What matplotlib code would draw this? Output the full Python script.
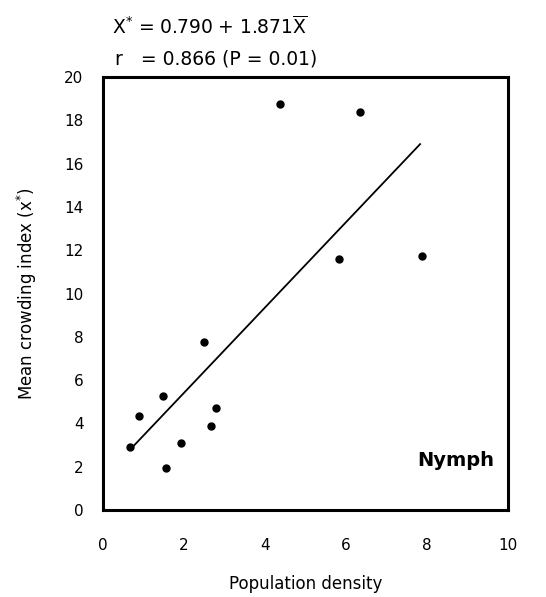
import numpy as np
import matplotlib.pyplot as plt

# values
density = [0.66, 0.89, 1.48, 1.55, 1.92, 2.49, 2.67, 2.80, 4.37, 5.83, 6.35, 7.88]
crowding = [2.93, 4.33, 5.26, 1.95, 3.10, 7.77, 3.86, 4.70, 18.74, 11.60, 18.37, 11.75]

# regression line as drawn (end points)
fit_x = [0.70, 7.83]
fit_y = [2.85, 16.90]

x_ticks = [0, 2, 4, 6, 8, 10]
y_ticks = [0, 2, 4, 6, 8, 10, 12, 14, 16, 18, 20]

plt.rcParams['font.family'] = ['DejaVu Sans']

fig = plt.figure(figsize=(5.46, 5.97), dpi=100)
ax = fig.add_axes([103 / 546, 1 - 510 / 597, 405 / 546, 433 / 597])

ax.plot(density, crowding, 'o', color='black', markersize=5)
ax.plot(fit_x, fit_y, '-', color='black', linewidth=1.3)

ax.set_xlim(0, 10)
ax.set_ylim(0, 20)
ax.set_xticks(x_ticks)
ax.set_yticks(y_ticks)
ax.tick_params(length=0, labelsize=11, pad=20)
ax.tick_params(axis='y', pad=14)
for s in ax.spines.values():
    s.set_linewidth(2.2)

ax.set_xlabel('Population density', fontsize=12, labelpad=16)
ax.set_ylabel('Mean crowding index (x$^{*}$)', fontsize=12, labelpad=18)

ax.text(0.965, 0.115, 'Nymph', transform=ax.transAxes, ha='right', va='center',
        fontsize=14, fontweight='bold')

fig.text(112 / 546, 1 - 27 / 597, r'X$^{*}$ = 0.790 + 1.871$\overline{\mathrm{X}}$',
         ha='left', va='center', fontsize=13.5)
fig.text(115 / 546, 1 - 59 / 597, 'r   = 0.866 (P = 0.01)',
         ha='left', va='center', fontsize=13.5)

fig.savefig('out.png', dpi=100)
